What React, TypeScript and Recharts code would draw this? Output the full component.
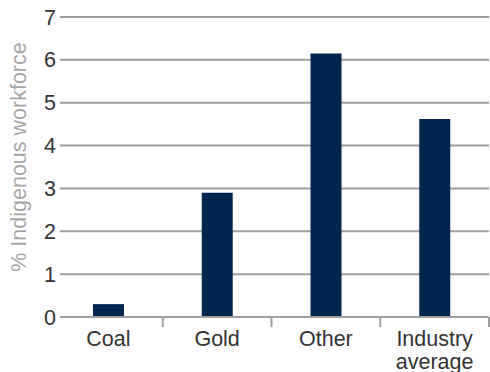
import React from "react";
import { BarChart, Bar, XAxis, YAxis, CartesianGrid, Label } from "recharts";

const categories = ["Coal", "Gold", "Other", "Industry average"];
const shares = [0.3, 2.9, 6.15, 4.62];
const yTicks = [0, 1, 2, 3, 4, 5, 6, 7];

const data = categories.map((name, i) => ({ name, value: shares[i] }));

const FONT = "'Liberation Sans', Arial, sans-serif";
const GRID = "#9e9e9e";
const NAVY = "#00254f";
const FS = 21.5;

// label under each band plus a small divider tick at the band's right edge
function CategoryTick(props: any) {
  const { x, y, payload } = props;
  const words = String(payload.value).split(" ");
  const half = payload.offset ?? 54.4;
  return (
    <g>
      <line x1={x + half} x2={x + half} y1={y} y2={y + 10} stroke={GRID} strokeWidth={2} />
      <text x={x} y={y} textAnchor="middle" fill="#333" fontSize={FS} fontFamily={FONT}>
        {words.map((w: string, i: number) => (
          <tspan key={w} x={x} dy={i === 0 ? 29 : 23}>
            {w}
          </tspan>
        ))}
      </text>
    </g>
  );
}

function AxisTitle() {
  return (
    <text
      x={19}
      y={157}
      transform="rotate(-90 19 157)"
      textAnchor="middle"
      dominantBaseline="central"
      fill="#a6a6a6"
      fontSize={FS}
      fontFamily={FONT}
    >
      % Indigenous workforce
    </text>
  );
}

export default function App() {
  return (
    <div style={{ position: "absolute", left: 0, top: 0, width: 490, height: 372, background: "#fff" }}>
      <BarChart
        width={490}
        height={372}
        data={data}
        margin={{ top: 17, right: 1, left: 0, bottom: 0 }}
        barCategoryGap={0}
      >
        <CartesianGrid horizontal vertical={false} stroke={GRID} strokeWidth={2} />
        <XAxis
          dataKey="name"
          height={55}
          axisLine={{ stroke: GRID, strokeWidth: 2 }}
          tickLine={false}
          tickSize={0}
          tickMargin={0}
          tick={<CategoryTick />}
          interval={0}
          padding={{ left: -6, right: 0 }}
        />
        <YAxis
          width={60}
          domain={[0, 7]}
          ticks={yTicks}
          interval={0}
          axisLine={false}
          tickLine={false}
          tickSize={2}
          tickMargin={2}
          tick={{ fill: "#333", fontSize: FS, fontFamily: FONT }}
        >
          <Label content={<AxisTitle />} />
        </YAxis>
        <Bar dataKey="value" fill={NAVY} barSize={31} isAnimationActive={false} />
      </BarChart>
    </div>
  );
}
